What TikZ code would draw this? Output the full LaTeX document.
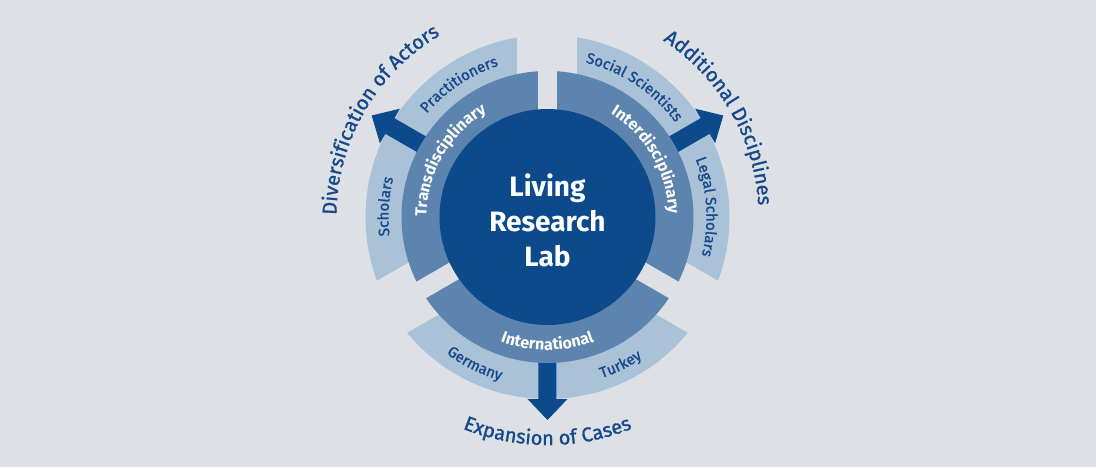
\documentclass[tikz,border=0pt]{standalone}
\usepackage{fontspec}
\setmainfont{Fira Sans}
\newfontfamily\medfont{Fira Sans}[FakeBold=1.2]
\usetikzlibrary{decorations.text}
\definecolor{bgc}{RGB}{221,225,230}
\definecolor{outc}{RGB}{170,194,216}
\definecolor{midc}{RGB}{92,132,175}
\definecolor{inc}{RGB}{12,74,140}
\definecolor{txtc}{RGB}{22,72,138}
% letters pointing outward (clockwise arc): center angle, half span, radius, font, colour, text
\newcommand{\outtext}[6]{%
  \path[decorate,decoration={text along path,text align=center,text color=#5,
    text={|#4|#6}}] ({#1+#2}:#3) arc[start angle={#1+#2},end angle={#1-#2},radius=#3];}
% letters pointing inward (counter-clockwise arc)
\newcommand{\intext}[6]{%
  \path[decorate,decoration={text along path,text align=center,text color=#5,
    text={|#4|#6}}] ({#1-#2}:#3) arc[start angle={#1-#2},end angle={#1+#2},radius=#3];}
\newcommand{\bigarrow}[1]{%
  \fill[inc,rotate=#1] (140pt,-9pt) -- (182pt,-9pt) -- (182pt,-20pt) -- (203pt,0pt)
    -- (182pt,20pt) -- (182pt,9pt) -- (140pt,9pt) -- cycle;}
\newcommand{\fbig}{\medfont\fontsize{20pt}{23pt}\selectfont}
\newcommand{\fmid}{\fontsize{16pt}{19pt}\selectfont\bfseries}
\newcommand{\fout}{\medfont\fontsize{15pt}{18pt}\selectfont}
\begin{document}
\begin{tikzpicture}
\useasboundingbox (-547.5pt,-250pt) rectangle (548.5pt,217pt);
\fill[bgc] (-547.5pt,-250pt) rectangle (548.5pt,217pt);
% outer ring
\fill[outc] (0,0) circle[radius=182pt];
\foreach \a in {90,210,330}{\fill[bgc,rotate=\a] (0pt,-30pt) rectangle (195pt,30pt);}
% arrows
\bigarrow{150}
\bigarrow{30}
\bigarrow{270}
% middle ring
\fill[midc] (0,0) circle[radius=146pt];
\foreach \a in {90,210,330}{\fill[bgc,rotate=\a] (0pt,-9.5pt) rectangle (147pt,9.5pt);}
% inner disk
\fill[inc] (0,0) circle[radius=108pt];
\node[font=\fontsize{28pt}{35pt}\selectfont\bfseries, text=white, align=center] (title) at (0,-3pt) {Living\\Research\\Lab};
% middle ring labels
\outtext{150}{60}{121pt}{\fmid}{white}{Transdisciplinary}
\outtext{30}{60}{121pt}{\fmid}{white}{Interdisciplinary}
\intext{270}{60}{133pt}{\fmid}{white}{International}
% outer ring labels
\outtext{123.7}{40}{159pt}{\fout}{txtc}{Practitioners}
\outtext{176.3}{40}{159pt}{\fout}{txtc}{Scholars}
\outtext{56.3}{40}{159pt}{\fout}{txtc}{Social Scientists}
\outtext{3.7}{40}{159pt}{\fout}{txtc}{Legal Scholars}
\intext{243.7}{40}{170pt}{\fout}{txtc}{Germany}
\intext{296.3}{40}{170pt}{\fout}{txtc}{Turkey}
% outside labels
\outtext{150}{60}{211pt}{\fbig}{txtc}{Diversification of Actors}
\outtext{30}{60}{211pt}{\fbig}{txtc}{Additional Disciplines}
\intext{270}{60}{228pt}{\fbig}{txtc}{Expansion of Cases}
\end{tikzpicture}
\end{document}
